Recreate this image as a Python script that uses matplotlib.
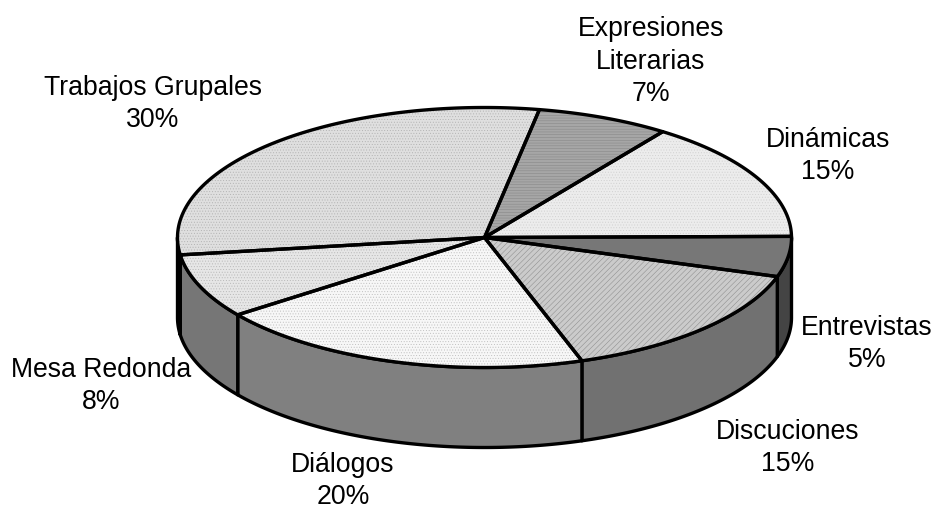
import numpy as np
import matplotlib
matplotlib.use("Agg")
import matplotlib.pyplot as plt
from matplotlib.patches import Polygon

plt.rcParams['font.family'] = ['Liberation Sans', 'DejaVu Sans']
plt.rcParams['hatch.linewidth'] = 0.35

# data, clockwise starting from the 3 o'clock position
categories = ["Entrevistas", "Discuciones", "Diálogos", "Mesa Redonda",
              "Trabajos Grupales", "Expresiones\nLiterarias", "Dinámicas"]
values = [5, 15, 20, 8, 30, 7, 15]

top_colors = ["#777777", "#cbcbcb", "#f7f7f7", "#e6e6e6", "#dfdfdf", "#a6a6a6", "#ececec"]
side_colors = ["#444444", "#717171", "#808080", "#767676", "#6e6e6e", "#555555", "#777777"]
hatches = [None, '//////', '......', '......', '......', '------', '......']
hatch_colors = [None, "#8a8a8a", "#bdbdbd", "#b5b5b5", "#b0b0b0", "#858585", "#cfcfcf"]
label_pos = [(867, 373), (788, 477), (343, 510), (101, 415), (153, 133), (651, 107), (828, 185)]

CX, CY, A, B, DEPTH = 484.5, 238.5, 307, 130, 80
START = -0.5
LW = 2.4

fig = plt.figure(figsize=(9.37, 5.10), dpi=100)
ax = fig.add_axes([0, 0, 1, 1])
ax.set_xlim(0, 937)
ax.set_ylim(510, 0)
ax.axis('off')


def rim(t0, t1, dy=0):
    t = np.radians(np.linspace(t0, t1, max(int(abs(t1 - t0) * 2), 2)))
    return np.column_stack([CX + A * np.cos(t), CY + dy + B * np.sin(t)])


edges = START + np.concatenate([[0], np.cumsum(values)]) / np.sum(values) * 360

# side wall (only the front half of the ellipse shows)
for i, (t0, t1) in enumerate(zip(edges[:-1], edges[1:])):
    lo, hi = max(t0, 0), min(t1, 180)
    if lo >= hi:
        continue
    poly = np.vstack([rim(lo, hi), rim(hi, lo, DEPTH)])
    ax.add_patch(Polygon(poly, closed=True, facecolor=side_colors[i],
                         edgecolor='black', linewidth=LW, joinstyle='round', zorder=1))

# top face
for i, (t0, t1) in enumerate(zip(edges[:-1], edges[1:])):
    poly = np.vstack([[CX, CY], rim(t0, t1)])
    if hatches[i]:
        ax.add_patch(Polygon(poly, closed=True, facecolor=top_colors[i], edgecolor=hatch_colors[i],
                             hatch=hatches[i], linewidth=0, zorder=2))
    else:
        ax.add_patch(Polygon(poly, closed=True, facecolor=top_colors[i], edgecolor='none', zorder=2))
    ax.add_patch(Polygon(poly, closed=True, fill=False, edgecolor='black',
                         linewidth=LW, joinstyle='round', zorder=3))

# labels
for name, val, (x, y) in zip(categories, values, label_pos):
    ax.text(x, y, f"{name}\n{val}%", ha='center', va='bottom', fontsize=19.2,
            color='black', linespacing=1.32, zorder=4, clip_on=False)

fig.savefig("out.png", dpi=100)
